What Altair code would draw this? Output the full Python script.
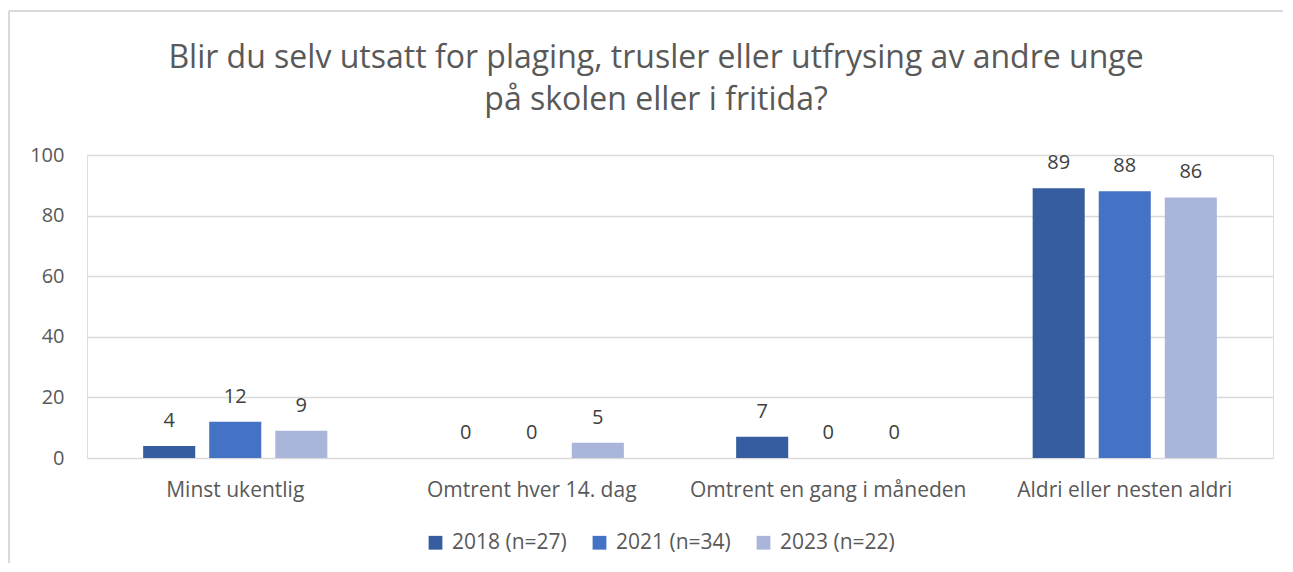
import altair as alt
import pandas as pd

categories = ["Minst ukentlig", "Omtrent hver 14. dag", "Omtrent en gang i måneden", "Aldri eller nesten aldri"]
series = ["2018 (n=27)", "2021 (n=34)", "2023 (n=22)"]
values_2018 = [4, 0, 7, 89]
values_2021 = [12, 0, 0, 88]
values_2023 = [9, 5, 0, 86]
colors = ["#355DA0", "#4472C4", "#A9B6DA"]
title_lines = ["Blir du selv utsatt for plaging, trusler eller utfrysing av andre unge",
               "på skolen eller i fritida?"]
y_ticks = [0, 20, 40, 60, 80, 100]

rows = []
for s, vals in zip(series, [values_2018, values_2021, values_2023]):
    for c, v in zip(categories, vals):
        rows.append({"kategori": c, "serie": s, "verdi": v})
df = pd.DataFrame(rows)
one = pd.DataFrame({"k": [0]})

FONT = "Open Sans"
GRAY = "#595959"
FS_TXT = 21
FS_NUM = 20

x = alt.X("kategori:N", sort=categories, title=None,
          scale=alt.Scale(paddingInner=0, paddingOuter=0),
          axis=alt.Axis(labelAngle=0, labelFontSize=FS_TXT, labelColor=GRAY, labelFont=FONT,
                        labelPadding=21, labelLimit=400, ticks=False, domain=False, grid=False))
xo = alt.XOffset("serie:N", sort=series,
                 scale=alt.Scale(paddingInner=0.212, paddingOuter=0.85))
y = alt.Y("verdi:Q", title=None,
          scale=alt.Scale(domain=[0, 100], nice=False),
          axis=alt.Axis(values=y_ticks, labelFontSize=FS_NUM, labelColor=GRAY, labelFont=FONT,
                        labelPadding=23, ticks=False, domain=False, gridColor="#D9D9D9",
                        gridWidth=1.5))
color = alt.Color("serie:N", sort=series,
                  scale=alt.Scale(domain=series, range=colors),
                  legend=alt.Legend(title=None, orient="none", direction="horizontal",
                                    legendX=338, legendY=377,
                                    symbolType="square", symbolSize=190, symbolStrokeWidth=0,
                                    labelFontSize=FS_TXT, labelColor=GRAY, labelFont=FONT,
                                    labelLimit=300, columnPadding=22, labelOffset=6))

base = alt.Chart(df)
bars = base.mark_bar().encode(x=x, xOffset=xo, y=y, color=color)
labels = base.mark_text(baseline="middle", dy=-25, fontSize=FS_NUM, font=FONT, color="#404040").encode(
    x=x, xOffset=xo, y=y, text=alt.Text("verdi:Q"))

title = alt.Chart(one).mark_text(text=title_lines, fontSize=32, font=FONT, color=GRAY,
                                 fontWeight="normal", align="center", baseline="middle",
                                 lineHeight=42).encode(
    x=alt.value(569), y=alt.value(-97))

frame_top = alt.Chart(one).mark_rule(color="#D9D9D9", strokeWidth=2).encode(
    x=alt.value(-78), x2=alt.value(1300), y=alt.value(-144))
frame_left = alt.Chart(one).mark_rule(color="#D9D9D9", strokeWidth=2).encode(
    x=alt.value(-78), y=alt.value(-144), y2=alt.value(500))

chart = alt.layer(frame_top, frame_left, title, bars, labels).properties(
    width=1186, height=303,
    autosize=alt.AutoSizeParams(type="none"),
    padding={"left": 79, "top": 147, "right": 10, "bottom": 105},
).configure_view(stroke=None).configure(background="white")

chart.save("out.html", embed_options={"renderer": "svg", "actions": False})
